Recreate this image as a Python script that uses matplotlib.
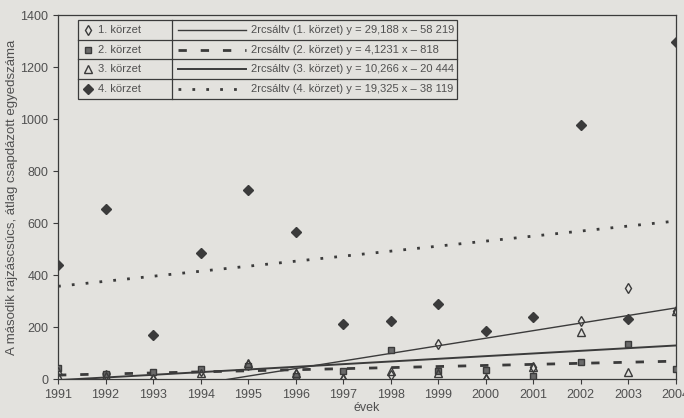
import numpy as np
import matplotlib
matplotlib.use("Agg")
import matplotlib.pyplot as plt
from matplotlib.patches import Rectangle
from matplotlib.lines import Line2D

plt.rcParams['font.family'] = ['Liberation Sans', 'DejaVu Sans']

# data
years = list(range(1991, 2005))
korzet1 = [5, 15, 0, 30, 55, 20, 0, 15, 136, 0, 45, 222, 350, 262]
korzet2 = [42, 20, 28, 37, 50, 10, 30, 111, 32, 34, 11, 66, 136, 38]
korzet3 = [30, 10, 5, 25, 60, 25, 5, 32, 25, 5, 45, 181, 28, 262]
korzet4 = [438, 656, 168, 485, 729, 567, 213, 225, 287, 185, 238, 980, 232, 1296]

series_names = ['1. körzet', '2. körzet', '3. körzet', '4. körzet']
trend_labels = ['2rcsáltv (1. körzet) y = 29,188 x \u2013 58 219',
                '2rcsáltv (2. körzet) y = 4,1231 x \u2013 818',
                '2rcsáltv (3. körzet) y = 10,266 x \u2013 20 444',
                '2rcsáltv (4. körzet) y = 19,325 x \u2013 38 119']
# slope / intercept of the trend lines (2nd intercept is truncated in the label)
slopes = [29.188, 4.1231, 10.266, 19.325]
intercepts = [-58219, -8194, -20444, -38119]

ink = '#3b3b3b'
paper = '#e3e2de'

markers = [dict(marker='d', ms=5, mfc='none', mec=ink, mew=1.0),
           dict(marker='s', ms=4.5, mfc='#6a6a6a', mec=ink, mew=1.0),
           dict(marker='^', ms=5.5, mfc='none', mec=ink, mew=1.0),
           dict(marker='D', ms=5, mfc=ink, mec=ink, mew=1.0)]
trend_styles = [dict(ls='-', lw=1.0),
                dict(ls=(0, (3, 5)), lw=2.0),
                dict(ls='-', lw=1.4),
                dict(ls=(0, (1, 4)), lw=2.0)]

fig = plt.figure(figsize=(6.84, 4.18), dpi=100, facecolor=paper)
ax = fig.add_axes([0.0848, 0.0933, 0.9032, 0.8697])
ax.set_facecolor(paper)

x = np.array(years)
for vals, mk in zip([korzet1, korzet2, korzet3, korzet4], markers):
    ax.plot(x, vals, ls='none', zorder=3, **mk)

xl = np.linspace(1991, 2004, 50)
for a, b, st in zip(slopes, intercepts, trend_styles):
    ax.plot(xl, a * xl + b, color=ink, zorder=2, **st)

ax.set_xlim(1991, 2004)
ax.set_ylim(0, 1400)
ax.set_xticks(years)
ax.set_yticks(range(0, 1401, 200))
ax.tick_params(axis='both', colors=ink, labelcolor='#505050', labelsize=9,
               length=3.5, width=0.8, direction='out')
for sp in ax.spines.values():
    sp.set_color(ink)
    sp.set_linewidth(0.9)

ax.set_xlabel('évek', fontsize=9, color='#505050', labelpad=1)
ax.set_ylabel('A második rajzáscsúcs, átlag csapdázott egyedszáma',
              fontsize=9.5, color='#505050', labelpad=2)

# table-like legend
lx0, lx1, lx2 = 0.0324, 0.1845, 0.6456
ly_top, row_h = 0.988, 0.0545
ax.add_patch(Rectangle((lx0, ly_top - 4 * row_h), lx2 - lx0, 4 * row_h,
                       transform=ax.transAxes, fill=False, ec=ink, lw=0.9, zorder=5))
ax.add_line(Line2D([lx1, lx1], [ly_top - 4 * row_h, ly_top], transform=ax.transAxes,
                   color=ink, lw=0.9, zorder=5))
for i in range(1, 4):
    yy = ly_top - i * row_h
    ax.add_line(Line2D([lx0, lx2], [yy, yy], transform=ax.transAxes,
                       color=ink, lw=0.9, zorder=5))
for i in range(4):
    yc = ly_top - (i + 0.5) * row_h
    ax.add_line(Line2D([0.049], [yc], transform=ax.transAxes, ls='none',
                       zorder=6, **markers[i]))
    ax.text(0.065, yc, series_names[i], transform=ax.transAxes, fontsize=8,
            color='#505050', va='center', ha='left')
    ax.add_line(Line2D([0.194, 0.305], [yc, yc], transform=ax.transAxes,
                       color=ink, zorder=6, **trend_styles[i]))
    ax.text(0.312, yc, trend_labels[i], transform=ax.transAxes, fontsize=8,
            color='#505050', va='center', ha='left')

fig.savefig('out.png', dpi=100, facecolor=paper)
